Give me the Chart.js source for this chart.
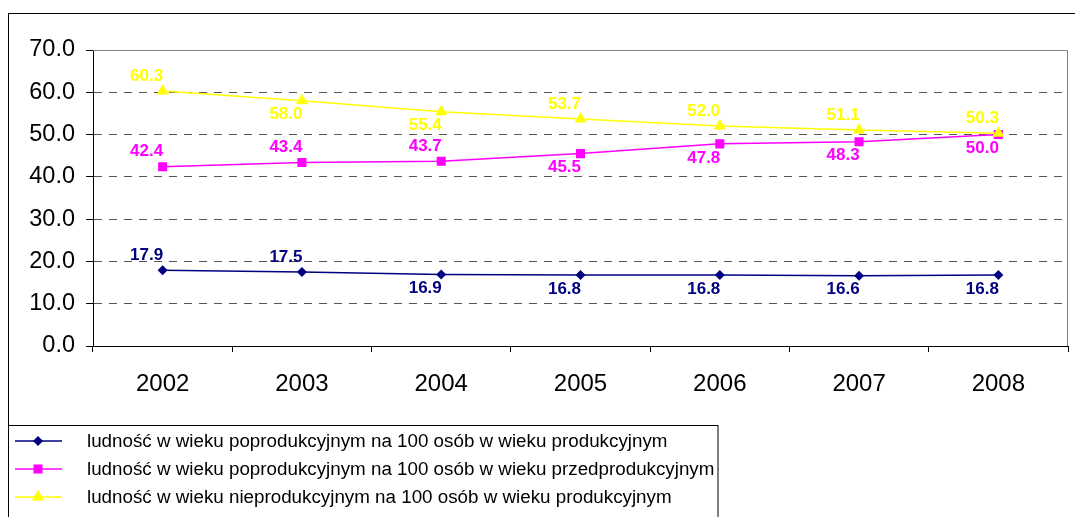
<!DOCTYPE html>
<html>
<head>
<meta charset="utf-8">
<script src="https://cdn.jsdelivr.net/npm/chart.js@4"></script>
<style>
  html, body { margin: 0; padding: 0; background: #fff; }
  #wrap { width: 1075px; height: 517px; }
</style>
</head>
<body>
<div id="wrap"><canvas id="myChart" width="1075" height="517"></canvas></div>
<script>
// lata
var years = ['2002', '2003', '2004', '2005', '2006', '2007', '2008'];
// wartosci serii
var postProd = [17.9, 17.5, 16.9, 16.8, 16.8, 16.6, 16.8];
var postPreProd = [42.4, 43.4, 43.7, 45.5, 47.8, 48.3, 50.0];
var nonProd = [60.3, 58.0, 55.4, 53.7, 52.0, 51.1, 50.3];
// os Y
var yMin = 0, yMax = 70, yStep = 10;

var FONT = '"Liberation Sans", Arial, sans-serif';

// ramka, legenda, obramowanie wykresu
var framePlugin = {
    id: 'frame',
    beforeDraw: function (chart) {
        var ctx = chart.ctx;
        ctx.save();
        ctx.fillStyle = '#fff';
        ctx.fillRect(0, 0, chart.width, chart.height);
        ctx.strokeStyle = '#000';
        ctx.lineWidth = 1;
        ctx.strokeRect(8.5, 13.5, 1080, 520);
        ctx.restore();
    },
    afterDraw: function (chart) {
        var ctx = chart.ctx;
        var a = chart.chartArea;
        ctx.save();
        // gorna i prawa krawedz obszaru wykresu
        ctx.strokeStyle = '#808080';
        ctx.lineWidth = 1;
        ctx.beginPath();
        ctx.moveTo(a.left, a.top + 0.5);
        ctx.lineTo(a.right - 0.5, a.top + 0.5);
        ctx.lineTo(a.right - 0.5, a.bottom);
        ctx.stroke();

        // legenda
        ctx.fillStyle = '#fff';
        ctx.fillRect(9, 426, 709, 100);
        ctx.strokeStyle = '#000';
        ctx.strokeRect(8.5, 425.5, 709.5, 120);
        var rows = [441, 469, 497];
        chart.data.datasets.forEach(function (ds, i) {
            var y = rows[i];
            ctx.strokeStyle = ds.borderColor;
            ctx.lineWidth = 1.5;
            ctx.beginPath();
            ctx.moveTo(15, y);
            ctx.lineTo(62, y);
            ctx.stroke();
            drawMarker(ctx, ds.pointStyle, 38, y, ds.pointRadius, ds.borderColor);
            ctx.fillStyle = '#000';
            ctx.font = '18.8px ' + FONT;
            ctx.textAlign = 'left';
            ctx.textBaseline = 'middle';
            ctx.fillText(ds.label, 87, y + 1);
        });
        ctx.restore();
    },
    afterDatasetsDraw: function (chart) {
        var ctx = chart.ctx;
        ctx.save();
        ctx.font = 'bold 17px ' + FONT;
        ctx.textAlign = 'center';
        ctx.textBaseline = 'middle';
        chart.data.datasets.forEach(function (ds, i) {
            var meta = chart.getDatasetMeta(i);
            ctx.fillStyle = ds.borderColor;
            meta.data.forEach(function (pt, j) {
                var dy = ds.labelSide[j] === 'up' ? -15 : 14;
                ctx.fillText(ds.data[j].toFixed(1), pt.x - 16, pt.y + dy);
            });
        });
        ctx.restore();
    }
};

function drawMarker(ctx, style, x, y, r, color) {
    ctx.fillStyle = color;
    ctx.beginPath();
    if (style === 'rectRot') {
        ctx.moveTo(x - r, y); ctx.lineTo(x, y - r); ctx.lineTo(x + r, y); ctx.lineTo(x, y + r);
    } else if (style === 'rect') {
        var s = r * Math.SQRT1_2;
        ctx.rect(x - s, y - s, 2 * s, 2 * s);
    } else {
        var h = r * Math.sqrt(3) / 2;
        ctx.moveTo(x, y - r); ctx.lineTo(x + h, y + r / 2); ctx.lineTo(x - h, y + r / 2);
    }
    ctx.closePath();
    ctx.fill();
}

var ctx = document.getElementById('myChart').getContext('2d');
var chart = new Chart(ctx, {
    type: 'line',
    data: {
        labels: years,
        datasets: [{
            label: 'ludność w wieku poprodukcyjnym na 100 osób w wieku produkcyjnym',
            data: postProd,
            borderColor: '#000080',
            backgroundColor: '#000080',
            borderWidth: 1.5,
            pointStyle: 'rectRot',
            pointRadius: 5,
            pointBorderWidth: 0,
            labelSide: ['up', 'up', 'down', 'down', 'down', 'down', 'down'],
            order: 3
        }, {
            label: 'ludność w wieku poprodukcyjnym na 100 osób w wieku przedprodukcyjnym',
            data: postPreProd,
            borderColor: '#FF00FF',
            backgroundColor: '#FF00FF',
            borderWidth: 1.5,
            pointStyle: 'rect',
            pointRadius: 6.4,
            pointBorderWidth: 0,
            labelSide: ['up', 'up', 'up', 'down', 'down', 'down', 'down'],
            order: 2
        }, {
            label: 'ludność w wieku nieprodukcyjnym na 100 osób w wieku produkcyjnym',
            data: nonProd,
            borderColor: '#FFFF00',
            backgroundColor: '#FFFF00',
            borderWidth: 1.5,
            pointStyle: 'triangle',
            pointRadius: 7,
            pointBorderWidth: 0,
            labelSide: ['up', 'down', 'down', 'up', 'up', 'up', 'up'],
            order: 1
        }]
    },
    options: {
        responsive: false,
        animation: false,
        layout: { padding: { left: 0, top: 50, right: 1, bottom: 0 } },
        plugins: {
            legend: { display: false },
            tooltip: { enabled: false }
        },
        scales: {
            x: {
                offset: true,
                grid: { offset: true, drawOnChartArea: false, tickLength: 6, color: '#000' },
                border: { color: '#000' },
                ticks: { font: { family: FONT, size: 24 }, color: '#000', padding: 18, maxRotation: 0 },
                afterFit: function (scale) { scale.height = 171; }
            },
            y: {
                min: yMin,
                max: yMax,
                grid: { color: '#555', tickColor: '#000', tickLength: 7 },
                border: { color: '#000', dash: [8, 7] },
                ticks: {
                    stepSize: yStep,
                    font: { family: FONT, size: 23.5 },
                    color: '#000',
                    padding: 11,
                    callback: function (v) { return v.toFixed(1); }
                },
                afterFit: function (scale) { scale.width = 93; }
            }
        }
    },
    plugins: [framePlugin]
});
</script>
</body>
</html>
